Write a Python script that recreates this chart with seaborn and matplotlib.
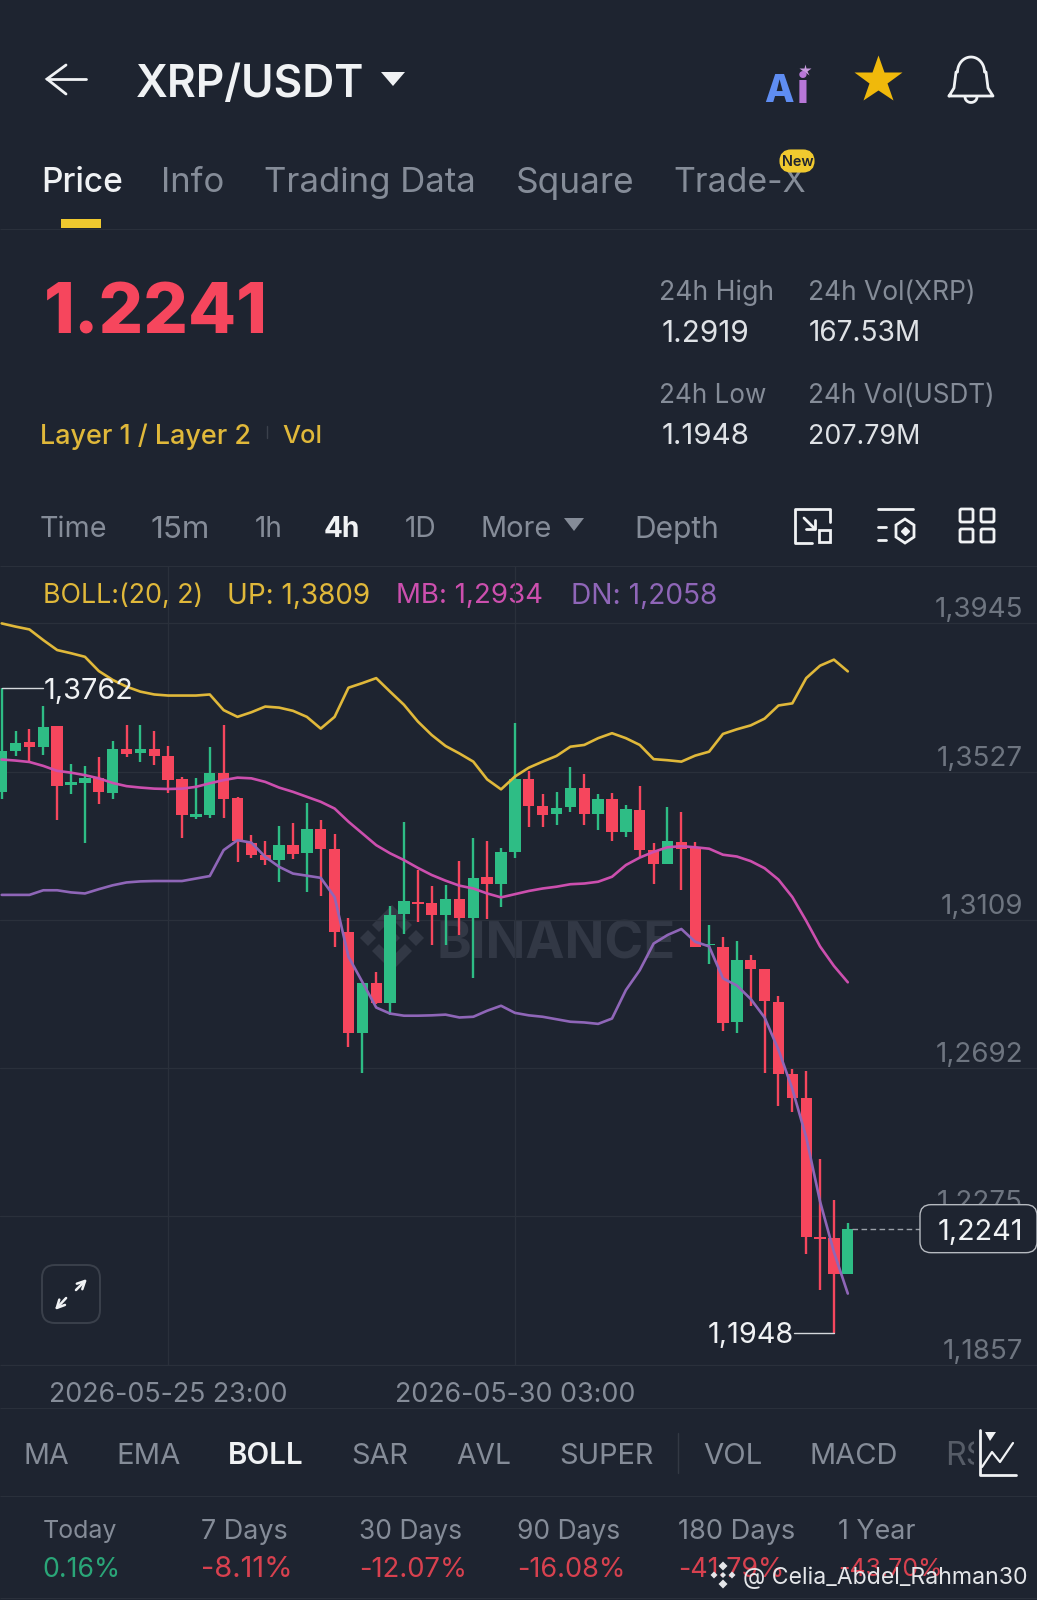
import matplotlib
matplotlib.use("Agg")
import matplotlib.pyplot as plt
from matplotlib.patches import Polygon, FancyBboxPatch, Rectangle
import numpy as np
import pandas as pd
import seaborn as sns

# ---------- data ----------
opens = [1.3470,1.3585,1.3610,1.3597,1.3655,1.3488,1.3495,1.3510,1.3468,1.3590,
         1.3580,1.3590,1.3571,1.3505,1.3398,1.3404,1.3522,1.3454,1.3326,1.3292,
         1.3278,1.3320,1.3298,1.3365,1.3309,1.3076,1.2790,1.2933,1.2877,1.3125,
         1.3161,1.3156,1.3123,1.3169,1.3115,1.3230,1.3210,1.3301,1.3506,1.3430,
         1.3407,1.3426,1.3480,1.3409,1.3451,1.3358,1.3419,1.3306,1.3267,1.3330,
         1.3314,1.3038,1.3033,1.2822,1.2997,1.2971,1.2878,1.2677,1.2608,1.2216,
         1.2214,1.2113]
closes = [1.3585,1.3608,1.3596,1.3653,1.3486,1.3497,1.3508,1.3470,1.3590,1.3576,
          1.3590,1.3572,1.3503,1.3404,1.3407,1.3522,1.3451,1.3332,1.3292,1.3278,
          1.3320,1.3296,1.3365,1.3309,1.3076,1.2790,1.2933,1.2877,1.3123,1.3162,
          1.3154,1.3123,1.3169,1.3115,1.3228,1.3210,1.3301,1.3506,1.3431,1.3406,
          1.3425,1.3480,1.3409,1.3449,1.3358,1.3421,1.3306,1.3267,1.3331,1.3309,
          1.3033,1.3042,1.2819,1.2997,1.2971,1.2880,1.2677,1.2608,1.2216,1.2211,
          1.2113,1.2241]
highs = [1.3762,1.3641,1.3648,1.3711,1.3655,1.3548,1.3542,1.3569,1.3612,1.3658,
         1.3658,1.3642,1.3599,1.3512,1.3508,1.3597,1.3658,1.3456,1.3348,1.3332,
         1.3373,1.3381,1.3439,1.3390,1.3350,1.3114,1.2933,1.2963,1.3148,1.3386,
         1.3250,1.3206,1.3209,1.3276,1.3339,1.3332,1.3312,1.3663,1.3530,1.3464,
         1.3470,1.3541,1.3520,1.3463,1.3468,1.3433,1.3486,1.3327,1.3426,1.3414,
         1.3330,1.3096,1.3061,1.3051,1.3010,1.2971,1.2896,1.2690,1.2683,1.2436,
         1.2320,1.2256]
lows = [1.3451,1.3572,1.3557,1.3575,1.3390,1.3463,1.3326,1.3435,1.3450,1.3569,
        1.3555,1.3545,1.3467,1.3341,1.3393,1.3397,1.3395,1.3273,1.3285,1.3263,
        1.3217,1.3282,1.3187,1.3176,1.3033,1.2752,1.2678,1.2874,1.2841,1.3071,
        1.3104,1.3038,1.3038,1.3067,1.2947,1.3112,1.3145,1.3283,1.3370,1.3372,
        1.3376,1.3414,1.3378,1.3364,1.3331,1.3344,1.3287,1.3210,1.3267,1.3195,
        1.3033,1.2986,1.2796,1.2792,1.2867,1.2680,1.2585,1.2570,1.2168,1.2068,
        1.1948,1.2113]
boll_up = [1.3944,1.3935,1.3927,1.3897,1.3869,1.3860,1.3850,1.3810,1.3785,1.3766,
           1.3752,1.3744,1.3741,1.3741,1.3741,1.3744,1.3700,1.3681,1.3694,1.3710,
           1.3707,1.3698,1.3681,1.3648,1.3681,1.3763,1.3776,1.3790,1.3752,1.3715,
           1.3668,1.3630,1.3599,1.3578,1.3555,1.3505,1.3477,1.3513,1.3538,1.3555,
           1.3571,1.3597,1.3602,1.3621,1.3635,1.3621,1.3602,1.3562,1.3559,1.3555,
           1.3572,1.3583,1.3633,1.3646,1.3657,1.3676,1.3713,1.3719,1.3790,1.3825,
           1.3842,1.3809]
boll_mb = [1.3561,1.3558,1.3554,1.3543,1.3529,1.3524,1.3517,1.3508,1.3495,1.3486,
           1.3482,1.3479,1.3478,1.3479,1.3484,1.3494,1.3503,1.3510,1.3508,1.3498,
           1.3482,1.3470,1.3456,1.3442,1.3423,1.3386,1.3353,1.3320,1.3297,1.3278,
           1.3256,1.3236,1.3220,1.3206,1.3198,1.3184,1.3173,1.3182,1.3191,1.3198,
           1.3203,1.3210,1.3212,1.3217,1.3231,1.3264,1.3285,1.3301,1.3314,1.3317,
           1.3314,1.3310,1.3293,1.3288,1.3275,1.3255,1.3223,1.3174,1.3107,1.3035,
           1.2980,1.2934]
boll_dn = [1.3180,1.3180,1.3180,1.3193,1.3193,1.3187,1.3184,1.3196,1.3207,1.3215,
           1.3218,1.3219,1.3219,1.3219,1.3226,1.3233,1.3306,1.3334,1.3327,1.3287,
           1.3259,1.3240,1.3234,1.3228,1.3174,1.3006,1.2935,1.2863,1.2846,1.2840,
           1.2840,1.2841,1.2843,1.2835,1.2837,1.2854,1.2868,1.2848,1.2841,1.2837,
           1.2830,1.2823,1.2821,1.2817,1.2832,1.2912,1.2968,1.3043,1.3067,1.3084,
           1.3048,1.3035,1.2945,1.2925,1.2887,1.2835,1.2744,1.2634,1.2498,1.2317,
           1.2175,1.2058]
price_ticks = [1.3945, 1.3527, 1.3109, 1.2692, 1.2275, 1.1857]
date_ticks = [12, 37]
date_labels = ["2026-05-25 23:00", "2026-05-30 03:00"]
last_price = 1.2241
tabs = ["Price", "Info", "Trading Data", "Square", "Trade-X"]
periods = ["Time", "15m", "1h", "4h", "1D", "More", "Depth"]
indicators = ["MA", "EMA", "BOLL", "SAR", "AVL", "SUPER", "VOL", "MACD"]
stat_names = ["Today", "7 Days", "30 Days", "90 Days", "180 Days", "1 Year"]
stat_values = ["0.16%", "-8.11%", "-12.07%", "-16.08%", "-41.79%", "-43.70%"]

# ---------- style ----------
BG = "#1e2430"; GRID = "#2a303b"; RED = "#f6465d"; GREEN = "#2ebd85"
MUTED = "#858c98"; TICK = "#6e7580"; WHITE = "#f0f2f4"
YEL = "#e0b83a"; MAG = "#cc4fae"; PUR = "#8f66b8"
sns.set_theme(style="dark", rc={"figure.facecolor": BG, "axes.facecolor": "none",
                                "savefig.facecolor": BG})
plt.rcParams["font.family"] = ["Inter", "DejaVu Sans"]

W, H = 1037, 1600
S = W / 1016.0  # layout measured on a 1016 wide view
fig = plt.figure(figsize=(W / 100, H / 100), dpi=100)
ui = fig.add_axes([0, 0, 1, 1], zorder=0); ui.set_xlim(0, W); ui.set_ylim(H, 0); ui.axis("off")
top = fig.add_axes([0, 0, 1, 1], zorder=5); top.set_xlim(0, W); top.set_ylim(H, 0); top.axis("off")
top.patch.set_alpha(0)
rend = fig.canvas.get_renderer()

def T(x0, x1, y, s, color=MUTED, weight=400, px=28, axx=None, z=3, fit=True):
    a = axx or ui
    t = a.text(x0 * S, y * S, s, color=color, fontweight=weight, fontsize=px * .72,
               ha="left", va="center_baseline", zorder=z)
    if fit:
        w = t.get_window_extent(rend).width
        t.set_fontsize(px * .72 * (x1 - x0) * S / w)
    else:
        t.set_ha("center"); t.set_x((x0 + x1) / 2 * S)
    return t

def hline(y, x0=0, x1=W, c=GRID, lw=1.0):
    ui.plot([x0, x1], [y, y], color=c, lw=lw * .72, zorder=1, solid_capstyle="butt")

for y in [229, 566, 1365, 1408, 1496, 1598]:
    hline(y)

# ---------- chart ----------
px_per_unit = 0.0418 / 148.4
ax = fig.add_axes([0, 1 - 1365 / H, 1, (1365 - 566) / H], zorder=2)
ax.patch.set_alpha(0)
df = pd.DataFrame(dict(candle=np.arange(len(opens)), open=opens, high=highs, low=lows,
                       close=closes, up=boll_up, mb=boll_mb, dn=boll_dn))
colors = np.where(df.close >= df.open, GREEN, RED)
ax.vlines(df.candle, df.low, df.high, colors=colors, lw=1.7, zorder=2)
ax.bar(df.candle, (df.close - df.open).abs(), bottom=df[["open", "close"]].min(axis=1),
       width=0.82, color=colors, linewidth=0, zorder=3)
for col, c in [("up", YEL), ("mb", MAG), ("dn", PUR)]:
    sns.lineplot(data=df, x="candle", y=col, color=c, lw=1.9, ax=ax, zorder=4, legend=False)
ax.set_xlim(-0.1226, 74.64)
ax.set_ylim(1.1857, 1.3945 + 57 * px_per_unit)
ax.set_xticks(date_ticks, date_labels)
ax.set_yticks(price_ticks, [f"{v:.4f}".replace(".", ",") for v in price_ticks])
ax.yaxis.tick_right()
ax.tick_params(axis="y", length=0, pad=-10, labelsize=20, labelcolor=TICK, zorder=1)
ax.tick_params(axis="x", length=0, pad=12, labelsize=19.3, labelcolor=MUTED)
for lb in ax.get_yticklabels():
    lb.set_ha("right"); lb.set_va("bottom")
ax.grid(True, color=GRID, lw=0.9, zorder=0)
ax.set_xlabel(""); ax.set_ylabel("")
for sp in ax.spines.values():
    sp.set_visible(False)

# extreme / last price annotations
ax.plot([0, 2.95], [highs[0]] * 2, color="#d5d8dc", lw=1, zorder=5)
ax.text(3.0, highs[0], "1,3762", color=WHITE, fontsize=20.8, va="center_baseline", ha="left", zorder=5)
ax.plot([57.1, 60], [min(lows)] * 2, color="#d5d8dc", lw=1, zorder=5)
ax.text(57.1, min(lows), "1,1948", color=WHITE, fontsize=20.8, va="center_baseline", ha="right", zorder=5)
ax.plot([61.3, 66.2], [last_price] * 2, color="#9aa0a8", lw=1, ls=(0, (4, 2.5)), zorder=5)
yp = 1365 - (last_price - 1.1857) / px_per_unit
top.add_patch(FancyBboxPatch((927, yp - 17), 103, 34, boxstyle="round,pad=7,rounding_size=11",
                             fc=BG, ec="#b6bac0", lw=1))
top.text(1023, yp + 1, "1,2241", color=WHITE, fontsize=20.8, ha="right", va="center_baseline")

# BINANCE watermark (under chart)
wm = "#323845"
T(428, 662, 920, "BINANCE", color=wm, weight=700, px=50)
def diamond(a, cx, cy, r, c, z=1):
    a.add_patch(Polygon([(cx - r, cy), (cx, cy - r), (cx + r, cy), (cx, cy + r)], fc=c, ec="none", zorder=z))
for dx, dy, r in [(-24, 0, 8), (24, 0, 8), (0, 0, 8)]:
    diamond(ui, 392 + dx, 938 + dy, r, wm)
for sgn in (-1, 1):  # chevrons
    ui.add_patch(Polygon([(392 - 20, 938 + sgn * 13), (392, 938 + sgn * 33), (392 + 20, 938 + sgn * 13),
                          (392 + 13, 938 + sgn * 6), (392, 938 + sgn * 19), (392 - 13, 938 + sgn * 6)],
                         fc=wm, ec="none", zorder=1))

# ---------- header ----------
ui.plot([47, 86], [79, 79], color=WHITE, lw=2)
ui.plot([66, 47, 66], [65, 79, 94], color=WHITE, lw=2, solid_joinstyle="miter")
T(133, 357, 79, "XRP/USDT", color=WHITE, weight=600, px=44)
ui.add_patch(Polygon([(381, 72), (405, 72), (393, 86)], fc=WHITE, ec="none"))
T(749, 778, 86, "A", color="#5f8df2", weight=800, px=42)
T(778, 795, 86, "i", color="#b877d8", weight=800, px=42, fit=False)
ui.plot([805], [70], marker="*", ms=9, color="#c99be0", mec="none")
ui.plot([878], [80], marker="*", ms=36, color="#f0b90b", mec="none")
# bell
th = np.linspace(np.pi, 0, 30)
bx = np.r_[949, 954, 956, 971 + 13.5 * np.cos(th), 986, 988, 993, 949]
by = np.r_[96, 88, 72, 72 + 15 * -np.sin(th), 72, 88, 96, 96]
ui.plot(bx, by, color=WHITE, lw=2)
ui.plot(971 + 6 * np.cos(np.linspace(0, np.pi, 15)), 97 + 5.5 * np.sin(np.linspace(0, np.pi, 15)), color=WHITE, lw=2)

# tabs
tab_x = [(40, 120), (158, 220), (259, 467), (505, 621), (660, 790)]
for i, (name, (a, b)) in enumerate(zip(tabs, tab_x)):
    T(a, b, 176, name, color=WHITE if i == 0 else MUTED, weight=500 if i == 0 else 400, px=33)
ui.add_patch(Rectangle((61, 219), 40, 9, fc="#f0c92f", ec="none", zorder=3))
ui.add_patch(FancyBboxPatch((785, 155), 24, 12, boxstyle="round,pad=0,rounding_size=6",
                            mutation_aspect=1, fc="#f0c92f", ec="#f0c92f", lw=8, zorder=4))
T(766, 797, 157, "New", color="#1e2430", weight=600, px=15, z=5)

# price block
T(43, 262, 302, "1.2241", color=RED, weight=800, px=72)
T(39, 246, 425, "Layer 1 / Layer 2", color=YEL, weight=500, px=27)
ui.plot([267, 267], [426, 438], color="#3b414c", lw=1)
T(277, 316, 425, "Vol", color=YEL, weight=500, px=27)
T(646, 759, 284, "24h High", color=MUTED, px=27)
T(648, 734, 324, "1.2919", color="#dfe2e6", px=27)
T(792, 956, 284, "24h Vol(XRP)", color=MUTED, px=27)
T(792, 902, 324, "167.53M", color="#dfe2e6", px=27)
T(646, 751, 385, "24h Low", color=MUTED, px=27)
T(648, 734, 425, "1.1948", color="#dfe2e6", px=27)
T(792, 975, 385, "24h Vol(USDT)", color=MUTED, px=27)
T(792, 902, 425, "207.79M", color="#dfe2e6", px=27)

# period row
per_x = [(39, 105), (147, 205), (247, 279), (318, 352), (394, 431), (471, 541), (622, 705)]
for name, (a, b) in zip(periods, per_x):
    sel = name == "4h"
    T(a, b, 516, name, color=WHITE if sel else MUTED, weight=700 if sel else 400, px=28,
      fit=name not in ("1h", "1D", "4h"))
ui.add_patch(Polygon([(564, 518), (584, 518), (574, 531)], fc=MUTED, ec="none"))
# tool icons
ic = dict(color=WHITE, lw=2)
ui.plot([812, 795, 795, 830, 830], [543, 543, 509, 509, 522], **ic)
ui.add_patch(Rectangle((819, 530), 11, 12, fc="none", ec=WHITE, lw=2))
ui.plot([804, 815], [518, 529], **ic)
ui.plot([806, 815, 815], [529, 529, 520], **ic)
ui.plot([878, 913], [509, 509], **ic)
ui.plot([878, 886], [527, 527], **ic); ui.plot([878, 886], [540, 540], **ic)
ui.add_patch(Polygon([(905, 519), (914, 525), (914, 537), (905, 543), (896, 537), (896, 525)], fc="none", ec=WHITE, lw=2))
ui.plot([905], [531], marker="D", ms=4, color=WHITE)
for xx in (960, 981):
    for yy in (509, 529):
        ui.add_patch(FancyBboxPatch((xx, yy), 13, 13, boxstyle="round,pad=0,rounding_size=1.5", fc="none", ec=WHITE, lw=2))

# BOLL legend
T(42, 199, 581, "BOLL:(20, 2)", color=YEL, px=26)
T(222, 362, 581, "UP: 1,3809", color=YEL, px=26)
T(388, 532, 581, "MB: 1,2934", color=MAG, px=26)
T(559, 702, 581, "DN: 1,2058", color=PUR, px=26)

# expand button
top.add_patch(FancyBboxPatch((42, 1265), 58, 58, boxstyle="round,pad=0,rounding_size=13", fc="none", ec="#3a404b", lw=1.4))
top.annotate("", xy=(89, 1277), xytext=(74, 1292), arrowprops=dict(arrowstyle="->", color=WHITE, lw=1.8, mutation_scale=14))
top.annotate("", xy=(53, 1312), xytext=(68, 1296), arrowprops=dict(arrowstyle="->", color=WHITE, lw=1.8, mutation_scale=14))

# indicator row
ind_x = [(23, 68), (114, 177), (223, 297), (344, 400), (447, 501), (548, 641), (689, 747), (793, 880)]
for name, (a, b) in zip(indicators, ind_x):
    sel = name == "BOLL"
    T(a, b, 1424, name, color=WHITE if sel else MUTED, weight=600 if sel else 400, px=28)
T(926, 975, 1424, "RSI", color="#565c67", px=28)
ui.add_patch(Rectangle((974, 1425), 63, 50, fc=BG, ec="none", zorder=3.5))
ui.plot([678, 678], [1433, 1473], color="#333944", lw=1)
ui.plot([980, 980, 1016], [1430, 1475, 1475], color=WHITE, lw=2, zorder=4)
ui.plot([982, 992, 1000, 1013], [1467, 1452, 1462, 1443], color=WHITE, lw=1.6, zorder=4)
ui.add_patch(Polygon([(985, 1432), (996, 1432), (990, 1441)], fc=WHITE, ec="none", zorder=4))

# period stats
stat_x = [(42, 115), (197, 282), (352, 453), (507, 608), (664, 779), (821, 897)]
val_x = [(42, 118), (197, 287), (352, 458), (507, 613), (664, 768), (821, 923)]
for name, (a, b) in zip(stat_names, stat_x):
    T(a, b, 1498, name, color=MUTED, px=26)
for v, (a, b) in zip(stat_values, val_x):
    T(a, b, 1535, v, color="#2aa678" if not v.startswith("-") else "#d8414f", px=26)

# credit watermark
T(728, 1007, 1543, "@ Celia_Abdel_Rahman30", color="#e4e6e9", px=26, axx=top)
for dx, dy, r in [(0, -9, 4.5), (-9, 0, 3.5), (9, 0, 3.5), (0, 9, 4.5), (0, 0, 3)]:
    diamond(top, 723 + dx, 1575 + dy, r, "#e4e6e9", z=3)

fig.savefig("out.png", dpi=100)
